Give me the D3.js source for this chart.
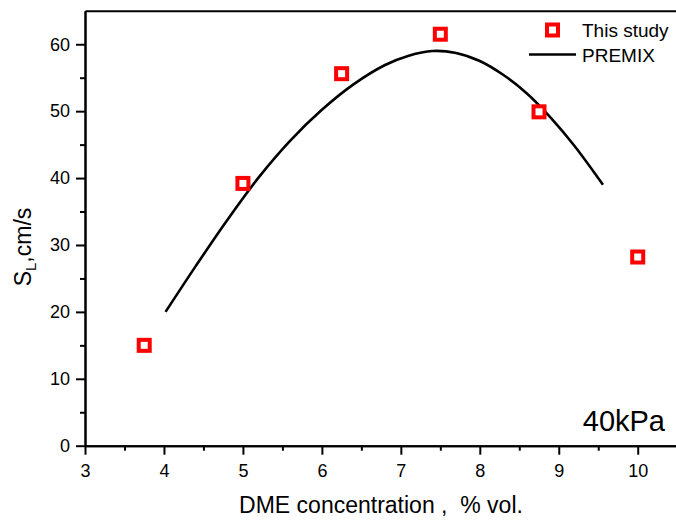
<!DOCTYPE html>
<html>
<head>
<meta charset="utf-8">
<script src="https://cdn.jsdelivr.net/npm/d3@7"></script>
<style>
	body { margin: 0; background: #fff; }
	svg text { font-family: Arial, "Liberation Sans", sans-serif; fill: #000; }
	.axis path, .axis line { stroke: #000; stroke-width: 2; }
	.axis text { font-size: 18px; }
</style>
</head>
<body>
<div id="chart-area"></div>
<script>
// measured points (This study)
var studyX = [3.75, 5.0, 6.25, 7.5, 8.75, 10.0];
var studyY = [15.0, 39.2, 55.6, 61.5, 49.9, 28.2];

// PREMIX curve
var premixX = [4.02, 4.4, 4.8, 5.2, 5.6, 6.0, 6.4, 6.8, 7.1, 7.4, 7.7, 8.0, 8.3, 8.6, 8.9, 9.2, 9.56];
var premixY = [20.0, 26.8, 33.7, 40.1, 45.6, 50.2, 54.0, 56.9, 58.3, 59.0, 58.7, 57.5, 55.4, 52.6, 49.0, 44.8, 39.0];

var xTicks = [3, 4, 5, 6, 7, 8, 9, 10];
var yTicks = [0, 10, 20, 30, 40, 50, 60];

var width = 676,
	height = 522;

var svg = d3.select("#chart-area").append("svg")
	.attr("width", width)
	.attr("height", height);

// x axis runs off the right edge, like the original
var x = d3.scaleLinear()
	.domain([3, 10.8])
	.range([85, 85 + 7.8 * 78.96]);
var y = d3.scaleLinear()
	.domain([0, 65])
	.range([445.7, 10.8]);

// minor ticks first
svg.append("g")
	.attr("class", "axis")
	.attr("transform", "translate(0," + y(0) + ")")
	.call(d3.axisBottom(x).tickValues(d3.range(3.5, 10.8, 1)).tickSize(5).tickSizeOuter(0).tickFormat(""));
svg.append("g")
	.attr("class", "axis")
	.attr("transform", "translate(" + x(3) + ",0)")
	.call(d3.axisLeft(y).tickValues([5, 15, 25, 35, 45, 55]).tickSize(5).tickSizeOuter(0).tickFormat(""));

var xAxis = svg.append("g")
	.attr("class", "axis")
	.attr("transform", "translate(0," + y(0) + ")")
	.call(d3.axisBottom(x).tickValues(xTicks).tickSize(9).tickSizeOuter(0).tickPadding(6));
xAxis.selectAll("text").attr("dy", "0.9em");

svg.append("g")
	.attr("class", "axis")
	.attr("transform", "translate(" + x(3) + ",0)")
	.call(d3.axisLeft(y).tickValues(yTicks).tickSize(9).tickSizeOuter(0).tickPadding(6));

// top frame line
svg.append("g")
	.attr("class", "axis")
	.attr("transform", "translate(0," + y(65) + ")")
	.call(d3.axisTop(x).tickValues([]).tickSizeOuter(0));

// PREMIX curve
var premix = premixX.map(function(d, i) { return [d, premixY[i]]; });
var line = d3.line()
	.x(function(d) { return x(d[0]); })
	.y(function(d) { return y(d[1]); })
	.curve(d3.curveCatmullRom);
svg.append("path")
	.datum(premix)
	.attr("d", line)
	.attr("fill", "none")
	.attr("stroke", "#000")
	.attr("stroke-width", 2.6);

// study squares
svg.selectAll("rect.study")
	.data(studyX)
	.enter()
	.append("rect")
	.attr("class", "study")
	.attr("x", function(d) { return x(d) - 5.5; })
	.attr("y", function(d, i) { return y(studyY[i]) - 5.5; })
	.attr("width", 11)
	.attr("height", 11)
	.attr("fill", "#fff")
	.attr("stroke", "#ff0000")
	.attr("stroke-width", 4);

// legend
svg.append("rect")
	.attr("x", 547).attr("y", 24.5)
	.attr("width", 11).attr("height", 11)
	.attr("fill", "#fff")
	.attr("stroke", "#ff0000")
	.attr("stroke-width", 4);
svg.append("text")
	.attr("x", 582).attr("y", 36.5)
	.style("font-size", "19px")
	.text("This study");
svg.append("line")
	.attr("x1", 529).attr("x2", 576)
	.attr("y1", 54.5).attr("y2", 54.5)
	.attr("stroke", "#000")
	.attr("stroke-width", 2.6);
svg.append("text")
	.attr("x", 582).attr("y", 61.5)
	.style("font-size", "19px")
	.text("PREMIX");

// pressure label
svg.append("text")
	.attr("x", 665).attr("y", 430.5)
	.attr("text-anchor", "end")
	.style("font-size", "29px")
	.text("40kPa");

// axis labels
svg.append("text")
	.attr("x", 381).attr("y", 513)
	.attr("text-anchor", "middle")
	.style("font-size", "23px")
	.style("white-space", "pre")
	.text("DME concentration ,  % vol.");

var yl = svg.append("text")
	.attr("transform", "translate(31,247) rotate(-90)")
	.attr("text-anchor", "middle")
	.style("font-size", "23px");
yl.append("tspan").text("S");
yl.append("tspan").attr("dy", 5).style("font-size", "15px").text("L");
yl.append("tspan").attr("dy", -5).text(",cm/s");
</script>
</body>
</html>
